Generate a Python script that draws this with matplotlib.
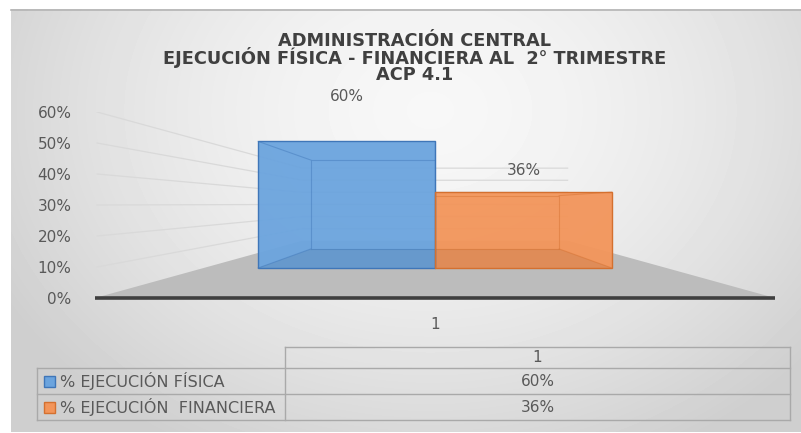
import numpy as np
import matplotlib
matplotlib.use('Agg')
from matplotlib import pyplot as plt
from matplotlib.patches import Polygon, Rectangle

title_lines = ['ADMINISTRACIÓN CENTRAL',
               'EJECUCIÓN FÍSICA - FINANCIERA AL  2° TRIMESTRE',
               'ACP 4.1']
categories = ['1']
series_names = ['% EJECUCIÓN FÍSICA', '% EJECUCIÓN  FINANCIERA']
series_values = [0.60, 0.36]
y_ticks = [0, 0.1, 0.2, 0.3, 0.4, 0.5, 0.6]

face_colors = ['#6ba4de', '#f3955a']
edge_colors = ['#3f76b8', '#d4702f']
TXT = '#595959'

W, H = 801, 433
fig = plt.figure(figsize=(W / 100, H / 100), dpi=100)

# background axes in pixel units (gradient + table + title)
bg = fig.add_axes([0, 0, 1, 1])
bg.set_xlim(0, W)
bg.set_ylim(H, 0)
bg.axis('off')
yy, xx = np.mgrid[9:432, 11:W]
r = np.sqrt(((xx - 430) / 430.0) ** 2 + ((yy - 110) / 340.0) ** 2)
shade = np.clip(0.97 - 0.13 * r ** 1.6, 0.81, 0.97)
bg.imshow(shade, cmap='gray', vmin=0, vmax=1, extent=(11, W, 432, 9),
          aspect='auto', interpolation='bilinear')
bg.plot([11, W], [9.5, 9.5], color='#b4b4b4', lw=1.2)

# title as one multi-line text
bg.text(415, 58, '\n'.join(title_lines), ha='center', va='center', fontsize=12.8,
        fontweight='bold', color='#404040', linespacing=0.86, multialignment='center')

# main plot area: front plane of the 3d box
X0, X1 = 95, 775
Y0, Y60 = 298, 112
ax = fig.add_axes([X0 / W, (H - Y0) / H, (X1 - X0) / W, (Y0 - Y60) / H])
ax.set_xlim(0, 1)
ax.set_ylim(0, 0.6)
ax.patch.set_visible(False)
for s in ax.spines.values():
    s.set_visible(False)

# simple perspective: vanishing point at x=0.5, v=V_VP
V_VP = 0.303
K_FRONT, K_BACK, K_WALL = 0.681, 0.478, 0.39


def proj(x, v, k):
    return 0.5 + (x - 0.5) * k, V_VP + (v - V_VP) * k


# floor
floor = [proj(0, 0, 1), proj(1, 0, 1), proj(1, 0, K_WALL), proj(0, 0, K_WALL)]
ax.add_patch(Polygon(floor, closed=True, facecolor='#bcbcbc', edgecolor='none', zorder=1))

# gridlines on side wall and back wall
for v in y_ticks[1:]:
    a = proj(0, v, 1)
    b = proj(0, v, K_WALL)
    c = proj(1, v, K_WALL)
    ax.plot([a[0] + 0.003, b[0], c[0]], [a[1], b[1], c[1]], color='#d9d9d9', lw=0.9, zorder=2)

# bars
bar_w = 0.382
n = len(series_values)
for i, v in enumerate(series_values):
    x0 = 0.5 + (i - n / 2) * bar_w
    x1 = x0 + bar_w
    fb = [proj(x0, 0, K_FRONT), proj(x1, 0, K_FRONT), proj(x1, v, K_FRONT), proj(x0, v, K_FRONT)]
    bb = [proj(x0, 0, K_BACK), proj(x1, 0, K_BACK), proj(x1, v, K_BACK), proj(x0, v, K_BACK)]
    ax.add_patch(Polygon(fb, closed=True, facecolor=face_colors[i], edgecolor='none',
                         alpha=0.95, zorder=3))
    # bottom face seen through the front
    bottom = [fb[0], fb[1], bb[1], bb[0]]
    ax.add_patch(Polygon(bottom, closed=True, facecolor='black', edgecolor='none',
                         alpha=0.07, zorder=4))
    # hidden edges shown through the transparent front
    ax.plot([bb[0][0], bb[1][0], bb[2][0], bb[3][0], bb[0][0]],
            [bb[0][1], bb[1][1], bb[2][1], bb[3][1], bb[0][1]],
            color=edge_colors[i], lw=0.8, alpha=0.45, zorder=4)
    for j in range(4):
        ax.plot([fb[j][0], bb[j][0]], [fb[j][1], bb[j][1]], color=edge_colors[i],
                lw=0.8, alpha=0.45, zorder=4)
    ax.add_patch(Polygon(fb, closed=True, facecolor='none', edgecolor=edge_colors[i],
                         lw=1.0, zorder=5))
    cx = proj((x0 + x1) / 2, v, K_FRONT)[0]
    ax.text(cx, v + 0.05, f'{v:.0%}', ha='center', va='center', fontsize=11,
            color=TXT, zorder=6)

# front floor edge (category axis)
ax.plot([0, 1], [0, 0], color='#3f3f3f', lw=2.6, solid_capstyle='butt',
        clip_on=False, zorder=6)

ax.set_yticks(y_ticks)
ax.set_yticklabels([f'{t:.0%}' for t in y_ticks])
ax.set_xticks([0.5])
ax.set_xticklabels(categories)
ax.tick_params(axis='both', length=0, labelsize=11, labelcolor=TXT)
ax.tick_params(axis='y', pad=17)
ax.tick_params(axis='x', pad=14)

# data table under the chart
tx0, tsplit, tx1 = 37, 285, 790
ty = [347, 368, 394, 420]
lc = '#a9a9a9'
bg.plot([tsplit, tx1], [ty[0], ty[0]], color=lc, lw=1)
for y in ty[1:]:
    bg.plot([tx0, tx1], [y, y], color=lc, lw=1)
bg.plot([tx0, tx0], [ty[1], ty[3]], color=lc, lw=1)
bg.plot([tsplit, tsplit], [ty[0], ty[3]], color=lc, lw=1)
bg.plot([tx1, tx1], [ty[0], ty[3]], color=lc, lw=1)
mid = (tsplit + tx1) / 2
bg.text(mid, (ty[0] + ty[1]) / 2, categories[0], ha='center', va='center',
        fontsize=11, color=TXT)
for i, (name, v) in enumerate(zip(series_names, series_values)):
    yc = (ty[i + 1] + ty[i + 2]) / 2
    bg.add_patch(Rectangle((44, yc - 5.5), 11, 11, facecolor=face_colors[i],
                           edgecolor=edge_colors[i], lw=1))
    bg.text(60, yc, name, ha='left', va='center', fontsize=11.5, color=TXT)
    bg.text(mid, yc, f'{v:.0%}', ha='center', va='center', fontsize=11, color=TXT)

fig.savefig('out.png', dpi=100)
